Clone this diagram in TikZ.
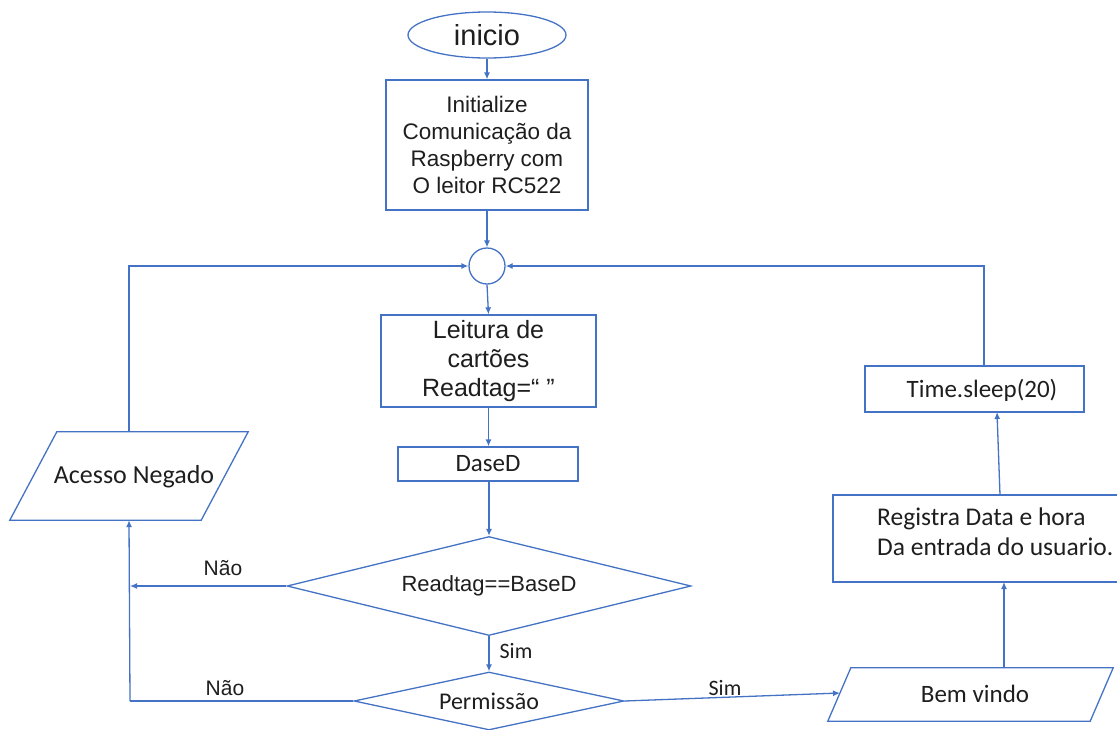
\documentclass[tikz,border=0pt]{standalone}
\usepackage{fontspec}
\setmainfont{Liberation Sans}
\newfontfamily\calfont{Carlito}
\usetikzlibrary{shapes.geometric,arrows.meta,calc}
\definecolor{flow}{HTML}{4472C4}
\definecolor{ink}{HTML}{1E1E1E}
\tikzset{
  wire/.style={draw=flow, line width=1.3pt},
  arr/.style={wire, -{Latex[length=7pt,width=6pt]}},
  box/.style={draw=flow, line width=1.3pt, rectangle, inner sep=0pt, text=ink, align=center},
  decision/.style={draw=flow, line width=1.3pt, diamond, aspect=4.5, inner sep=0pt, text=ink},
  lbl/.style={text=ink, inner sep=0pt},
}
\begin{document}
\begin{tikzpicture}[x=1pt,y=-1pt]
\useasboundingbox (0,0) rectangle (1117,729);

% start / init
\node[draw=flow, line width=1.3pt, ellipse, minimum width=158pt, minimum height=46pt, inner sep=0pt, text=ink,
      font=\fontsize{29}{33}\selectfont] (inicio) at (487,35) {inicio};
\node[box, minimum width=202pt, minimum height=130pt, font=\fontsize{22.5}{27}\selectfont] (init) at (487,145)
  {Initialize\\Comunicação da\\Raspberry com\\O leitor RC522};

% junction
\node[draw=flow, line width=1.3pt, circle, minimum size=36pt, inner sep=0pt] (circ) at (487,266) {};

% card reading
\node[box, minimum width=215pt, minimum height=92pt, font=\fontsize{25}{29}\selectfont] (leit) at (488.5,361)
  {Leitura de\\cartões\\Readtag=“ ”};
\node[box, minimum width=180pt, minimum height=34pt, font=\calfont\fontsize{25}{29}\selectfont] (dased) at (488,464) {DaseD};

% decisions
\node[decision, minimum width=404pt, minimum height=99pt, font=\fontsize{22}{26}\selectfont] (d1) at (489,586) {Readtag==BaseD};
\node[decision, minimum width=270pt, minimum height=58pt, font=\calfont\fontsize{24}{28}\selectfont] (d2) at (489,701) {Permissão};

% access denied (parallelogram)
\node[inner sep=0pt, minimum width=191pt, minimum height=88pt] (acesso) at (129,476) {};
\draw[wire] ($(acesso.south west)+(-23.5,0)$) -- ($(acesso.south east)+(-23.5,0)$)
  -- ($(acesso.north east)+(23.5,0)$) -- ($(acesso.north west)+(23.5,0)$) -- cycle;
\node[lbl, font=\calfont\fontsize{26}{30}\selectfont] at (134,477) {Acesso Negado};

% welcome (parallelogram)
\node[inner sep=0pt, minimum width=262pt, minimum height=53pt] (bem) at (970.5,694.5) {};
\draw[wire] ($(bem.south west)+(-11.5,0)$) -- ($(bem.south east)+(-11.5,0)$)
  -- ($(bem.north east)+(11.5,0)$) -- ($(bem.north west)+(11.5,0)$) -- cycle;
\node[lbl, font=\calfont\fontsize{25}{29}\selectfont] at (975,694) {Bem vindo};
\coordinate (bemin) at (840,693);

% log and wait
\node[box, minimum width=297pt, minimum height=87pt] (reg) at (981.5,538.5) {};
\node[lbl, font=\calfont\fontsize{25.5}{30}\selectfont, align=left, anchor=west] at (877,532)
  {Registra Data e hora\\Da entrada do usuario.};
\node[box, minimum width=219pt, minimum height=46pt] (time) at (974.5,389) {};
\node[lbl, font=\calfont\fontsize{25}{29}\selectfont] at (982,390) {Time.sleep(20)};

% helper points
\coordinate (nl1) at (130,586);
\coordinate (nl2) at (130,701);
\coordinate (tup) at (984,366);
\coordinate (regtop) at (1000,495);
\coordinate (timebot) at (997,412);
\coordinate (bemtop) at (1004,668);
\coordinate (regbot) at (1004,582);

% connectors
\draw[arr] (inicio.south) -- (init.north);
\draw[arr] (init.south) -- (circ.north);
\draw[arr] (acesso.north) |- (circ.west);
\draw[arr] (tup) |- (circ.east);
\draw[arr] (circ.south) -- (leit.north);
\draw[arr] (leit.south) -- (dased.north -| leit.south);
\draw[arr] (dased.south -| d1.north) -- (d1.north);
\draw[arr] (d1.west) -- (nl1);
\draw[wire] (d2.west) -- (nl2);
\draw[arr] (nl2) -- (acesso.south);
\draw[arr] (d1.south) -- (d2.north);
\draw[arr] (d2.east) -- (bemin);
\draw[arr] (bemtop) -- (regbot);
\draw[arr] (regtop) -- (timebot);

% branch labels
\node[lbl, font=\fontsize{21}{25}\selectfont] at (223,568) {Não};
\node[lbl, font=\fontsize{21}{25}\selectfont] at (225,688) {Não};
\node[lbl, font=\calfont\fontsize{22}{26}\selectfont] at (516,651) {Sim};
\node[lbl, font=\calfont\fontsize{22}{26}\selectfont] at (725,688) {Sim};
\end{tikzpicture}
\end{document}
